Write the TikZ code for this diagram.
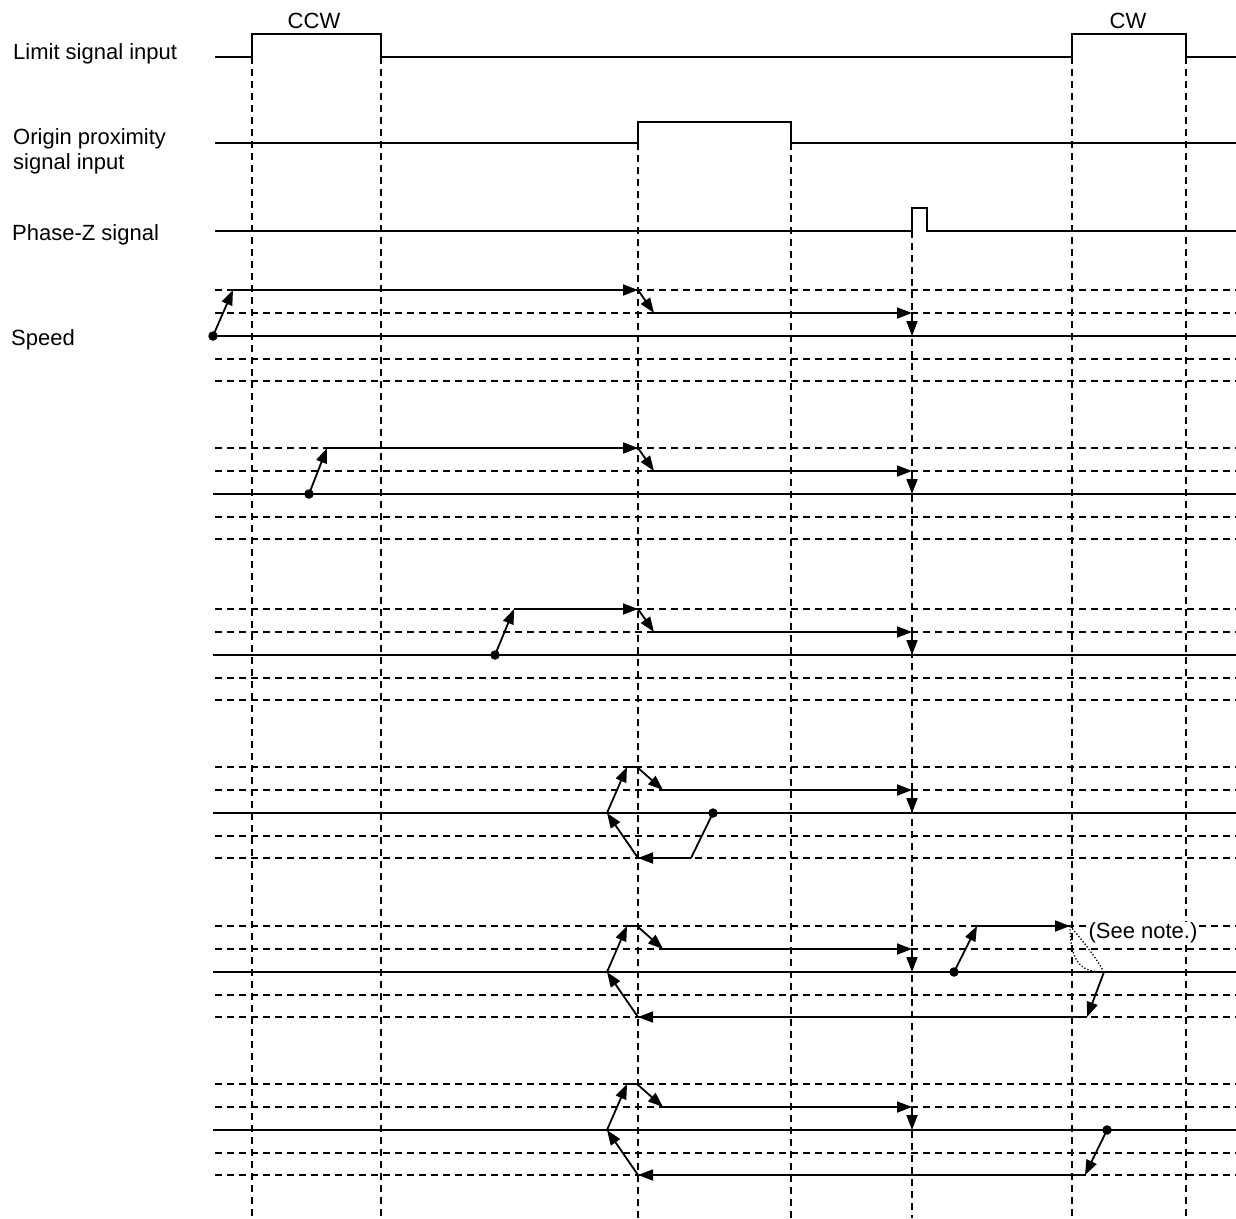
\documentclass[tikz,border=0pt]{standalone}
\usepackage{fontspec}
\setmainfont{Liberation Sans}
\usetikzlibrary{arrows.meta}
\begin{document}
\begin{tikzpicture}[x=1pt,y=-1pt,
  sig/.style={line width=1.8pt, line join=miter},
  gridline/.style={dash pattern=on 7pt off 5pt, line width=1.1pt},
  arr/.style={line width=1.8pt, -{Triangle[length=15pt,width=11pt]}},
  dotpt/.style={circle, fill=black, inner sep=0pt, minimum size=9.5pt},
  lbl/.style={font=\fontsize{22}{26}\selectfont, anchor=base west, inner sep=0pt},
  toplbl/.style={font=\fontsize{22}{26}\selectfont, anchor=base, inner sep=0pt},
  notelbl/.style={font=\fontsize{22}{26}\selectfont, fill=white, inner sep=1pt}]
\useasboundingbox (0,0) rectangle (1236,1218);
\fill[white] (0,0) rectangle (1236,1218);

% labels
\node[lbl] (lim) at (13,59) {Limit signal input};
\node[lbl] (ori1) at (13,144) {Origin proximity};
\node[lbl] (ori2) at (13,169) {signal input};
\node[lbl] (phz) at (12,240) {Phase-Z signal};
\node[lbl] (spd) at (11,345) {Speed};
\node[toplbl] (ccw) at (314,28) {CCW};
\node[toplbl] (cw) at (1128,28) {CW};

% vertical dashed lines
\foreach \x/\y in {252/57, 381/57, 638/143, 791/143, 912/231, 1072/57, 1186/57}
  \draw[gridline] (\x,\y) -- (\x,1218);

% horizontal dashed lines of speed groups
\foreach \b in {336,494,655,813,972,1130}{
  \foreach \d in {-46,-23,23,45}
    \draw[gridline] (215,\b+\d) -- (1236,\b+\d);
  \draw[sig] (213,\b) -- (1236,\b);
}

% signals
\draw[sig] (215,57) -- (252,57) -- (252,34) -- (381,34) -- (381,57) -- (1072,57)
  -- (1072,34) -- (1186,34) -- (1186,57) -- (1236,57);
\draw[sig] (215,143) -- (638,143) -- (638,122) -- (791,122) -- (791,143) -- (1236,143);
\draw[sig] (215,231) -- (912,231) -- (912,208) -- (927,208) -- (927,231) -- (1236,231);

% common tail: decel and stop at phase Z
\foreach \b in {336,494,655}{
  \draw[arr] (638,\b-46) -- (654,\b-23);
  \draw[arr] (654,\b-23) -- (912,\b-23);
  \draw[arr] (912,\b-23) -- (912,\b);
}
% group 1
\node[dotpt] (s1) at (213,336) {};
\coordinate (h1) at (233,290);
\draw[arr] (s1.center) -- (h1);
\draw[arr] (h1) -- (638,290);
% group 2
\node[dotpt] (s2) at (309,494) {};
\coordinate (h2) at (327,448);
\draw[arr] (s2.center) -- (h2);
\draw[arr] (h2) -- (638,448);
% group 3
\node[dotpt] (s3) at (495,655) {};
\coordinate (h3) at (514,609);
\draw[arr] (s3.center) -- (h3);
\draw[arr] (h3) -- (638,609);

% reversal groups: upper part
\foreach \b in {813,972,1130}{
  \draw[arr] (607,\b) -- (627,\b-46);
  \draw[sig] (627,\b-46) -- (637,\b-46);
  \draw[arr] (637,\b-46) -- (663,\b-23);
  \draw[arr] (663,\b-23) -- (912,\b-23);
  \draw[arr] (912,\b-23) -- (912,\b);
  \draw[arr] (638,\b+45) -- (607,\b);
}
% group 4
\node[dotpt] (s4) at (713,813) {};
\coordinate (r4) at (691,858);
\draw[sig] (s4.center) -- (r4);
\draw[arr] (r4) -- (638,858);
% group 5
\node[dotpt] (s5) at (954,972) {};
\coordinate (h5) at (977,926);
\coordinate (e5) at (1070,926);
\coordinate (z5) at (1104,972);
\coordinate (r5) at (1087,1017);
\draw[arr] (s5.center) -- (h5);
\draw[arr] (h5) -- (e5);
\draw[dotted, line width=1.3pt] (e5) .. controls (1084,942) and (1096,958) .. (z5);
\draw[dotted, line width=1.3pt] (e5) .. controls (1070,968) and (1086,972) .. (z5);
\draw[arr] (z5) -- (r5);
\draw[arr] (r5) -- (638,1017);
\node[notelbl] (note) at (1143,933) {(See note.)};
% group 6
\node[dotpt] (s6) at (1107,1130) {};
\coordinate (r6) at (1085,1175);
\draw[arr] (s6.center) -- (r6);
\draw[arr] (r6) -- (638,1175);
\end{tikzpicture}
\end{document}
